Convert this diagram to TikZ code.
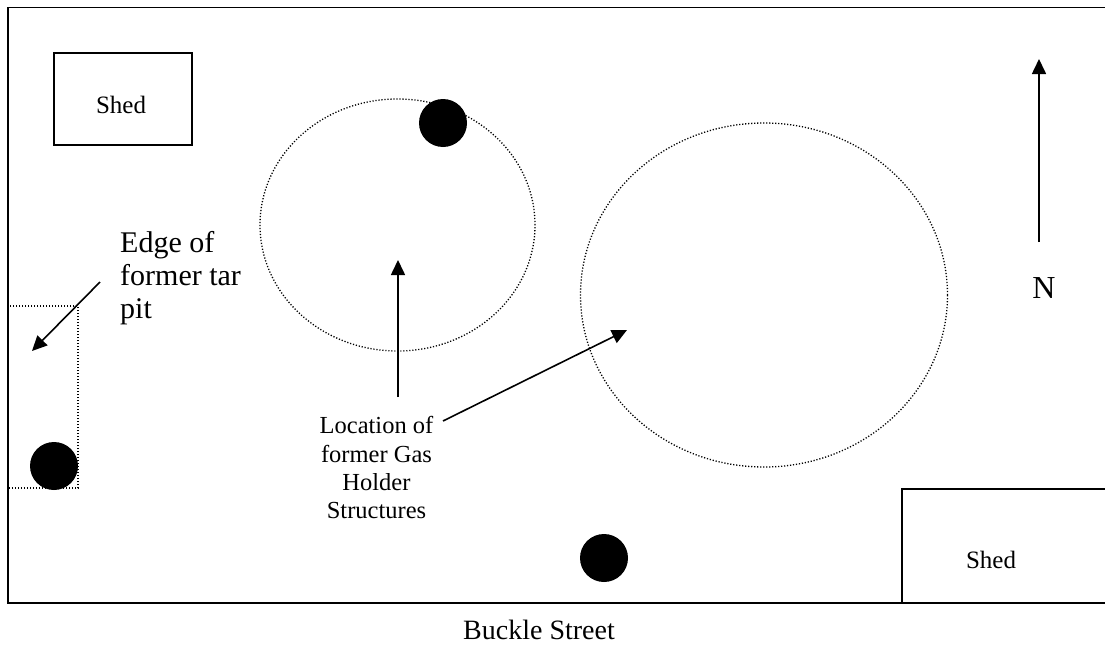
\documentclass[tikz,border=0pt]{standalone}
\usepackage{fontspec}
\setmainfont{Liberation Serif}
\usetikzlibrary{arrows.meta,shapes.geometric}

\begin{document}
\begin{tikzpicture}[x=1pt,y=-1pt,
  wall/.style={line width=1.7pt},
  shedline/.style={line width=1.4pt},
  dotline/.style={line width=1.3pt, dash pattern=on 1.2pt off 1.8pt},
  ring/.style={draw, dotline, ellipse, inner sep=0pt},
  well/.style={circle, fill=black, inner sep=0pt, minimum size=48pt},
  pointer/.style={line width=1.6pt, -{Triangle[length=15pt,width=14pt]}},
  label/.style={inner sep=0pt, font=\fontsize{25}{29}\selectfont}
]
\useasboundingbox (0,0) rectangle (1105,645);

% site boundary (open on the east side)
\draw[wall] (1112,7.5) -- (8,7.5) -- (8,603) -- (1112,603);

% sheds
\draw[shedline] (54,53) rectangle (192,145);
\node[label, anchor=base] (shedA) at (121,113) {Shed};
\draw[shedline] (1112,489) -- (902,489) -- (902,603);
\node[label, anchor=base] (shedB) at (991,568) {Shed};

% former tar pit
\draw[dotline] (8,306) rectangle (78,488);

% former gas holders
\node[ring, minimum width=275pt, minimum height=252pt] (holderA) at (397.5,225) {};
\node[ring, minimum width=367pt, minimum height=344pt] (holderB) at (764,295) {};

% wells
\node[well] (wellA) at (54,466) {};
\node[well] (wellB) at (443,123) {};
\node[well] (wellC) at (604,558) {};

% labels
\node[inner sep=0pt, anchor=north west, align=left,
      font=\fontsize{30}{33}\selectfont] (tarlbl) at (120,231.5)
      {Edge of\\former tar\\pit};
\node[inner sep=0pt, anchor=north, align=center,
      font=\fontsize{24.5}{28.4}\selectfont] (gaslbl) at (376.5,416.3)
      {Location of\\former Gas\\Holder\\Structures};
\node[inner sep=0pt, anchor=base, font=\fontsize{32}{36}\selectfont] (northlbl) at (1044,298) {N};
\node[inner sep=0pt, anchor=base, font=\fontsize{28}{32}\selectfont] (street) at (539,639) {Buckle Street};

% arrow ends
\coordinate (tarA) at (100,282);
\coordinate (tarB) at (32,351);
\coordinate (gasA) at (398,397);
\coordinate (gasB) at (398,260);
\coordinate (gasC) at (443,421);
\coordinate (gasD) at (627,330);
\coordinate (northA) at (1039,242);
\coordinate (northB) at (1039,59);

% arrows
\draw[pointer] (tarA) -- (tarB);
\draw[pointer] (gasA) -- (gasB);
\draw[pointer] (gasC) -- (gasD);
\draw[pointer] (northA) -- (northB);
\end{tikzpicture}
\end{document}
